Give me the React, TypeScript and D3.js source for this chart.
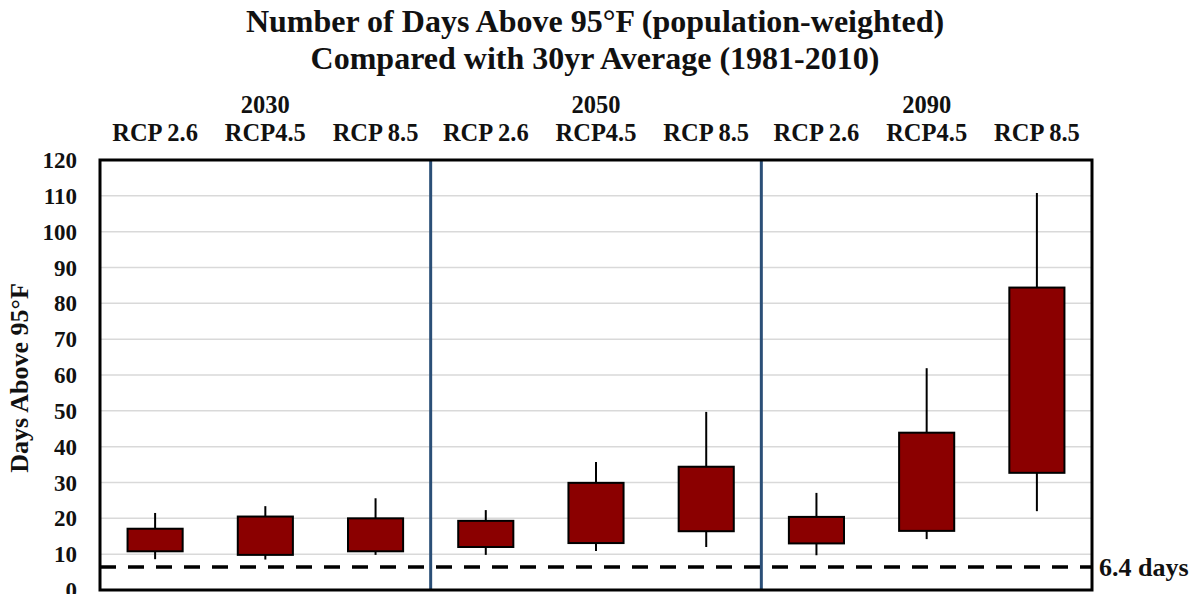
import React from "react";
import * as d3 from "d3";

const groups = ["2030", "2050", "2090"];
const scenarios = ["RCP 2.6", "RCP4.5", "RCP 8.5"];
const lows = [8.6, 8.5, 9.8, 9.8, 10.9, 12.0, 9.7, 14.2, 22.0];
const q1s = [10.8, 9.8, 10.8, 12.0, 13.1, 16.4, 13.0, 16.5, 32.7];
const q3s = [17.1, 20.5, 20.0, 19.3, 29.9, 34.4, 20.4, 43.9, 84.4];
const highs = [21.5, 23.4, 25.6, 22.3, 35.7, 49.7, 27.1, 61.9, 110.8];
const baselineValue = 6.4;
const baselineLabel = "6.4 days";
const yTicks = [0, 10, 20, 30, 40, 50, 60, 70, 80, 90, 100, 110, 120];
const titleLines = [
  "Number of Days Above 95°F (population-weighted)",
  "Compared with 30yr Average (1981-2010)",
];
const yLabel = "Days Above 95°F";

const W = 1193;
const H = 594;
const L = 100;
const R = 1092;
const T = 160;
const B = 590;
const FONT = "'Liberation Serif', 'Times New Roman', serif";

export default function App() {
  const keys = groups.flatMap((g) => scenarios.map((s) => `${g}|${s}`));
  const x = d3.scaleBand<string>().domain(keys).range([L, R]).paddingInner(0.5).paddingOuter(0.25);
  const y = d3.scaleLinear().domain([0, 120]).range([B, T]);
  const step = x.step();
  const bw = x.bandwidth();

  return (
    <svg
      width={W}
      height={H}
      style={{ position: "absolute", left: 0, top: 0, background: "#fff" }}
      fontFamily={FONT}
    >
      <rect x={0} y={0} width={W} height={H} fill="#fff" />
      {titleLines.map((t, i) => (
        <text key={t} x={595} y={32 + i * 37} textAnchor="middle" fontSize={32} fontWeight="bold" fill="#111">
          {t}
        </text>
      ))}
      {groups.map((g, gi) => {
        const k = keys[gi * 3 + 1];
        return (
          <text key={g} x={(x(k) as number) + bw / 2} y={113} textAnchor="middle" fontSize={24.5} fontWeight="bold" fill="#111">
            {g}
          </text>
        );
      })}
      {keys.map((k, i) => (
        <text key={k} x={(x(k) as number) + bw / 2} y={141} textAnchor="middle" fontSize={24.5} fontWeight="bold" fill="#111">
          {scenarios[i % 3]}
        </text>
      ))}
      {yTicks.slice(1, -1).map((t) => (
        <line key={t} x1={L} x2={R} y1={y(t)} y2={y(t)} stroke="#d9d9d9" strokeWidth={1.5} />
      ))}
      {yTicks.map((t) => (
        <text key={t} x={77} y={y(t) + 8} textAnchor="end" fontSize={23} fontWeight="bold" fill="#111">
          {t}
        </text>
      ))}
      <text
        transform={`translate(28,${378}) rotate(-90)`}
        textAnchor="middle"
        fontSize={26}
        fontWeight="bold"
        fill="#111"
      >
        {yLabel}
      </text>
      {[1, 2].map((gi) => {
        const xv = (x(keys[gi * 3]) as number) - step * 0.25;
        return <line key={gi} x1={xv} x2={xv} y1={T} y2={B} stroke="#2b4f77" strokeWidth={3} />;
      })}
      <line
        x1={L}
        x2={R}
        y1={y(baselineValue)}
        y2={y(baselineValue)}
        stroke="#000"
        strokeWidth={3.5}
        strokeDasharray="16 12"
      />
      <text x={1099} y={y(baselineValue) + 9} fontSize={26} fontWeight="bold" fill="#111">
        {baselineLabel}
      </text>
      {keys.map((k, i) => {
        const cx = (x(k) as number) + bw / 2;
        return (
          <g key={k}>
            <line x1={cx} x2={cx} y1={y(highs[i])} y2={y(q3s[i])} stroke="#000" strokeWidth={2} />
            <line x1={cx} x2={cx} y1={y(q1s[i])} y2={y(lows[i])} stroke="#000" strokeWidth={2} />
            <rect
              x={x(k) as number}
              y={y(q3s[i])}
              width={bw}
              height={y(q1s[i]) - y(q3s[i])}
              fill="#8b0000"
              stroke="#000"
              strokeWidth={2}
            />
          </g>
        );
      })}
      <rect x={L} y={T} width={R - L} height={B - T} fill="none" stroke="#000" strokeWidth={3} />
    </svg>
  );
}
